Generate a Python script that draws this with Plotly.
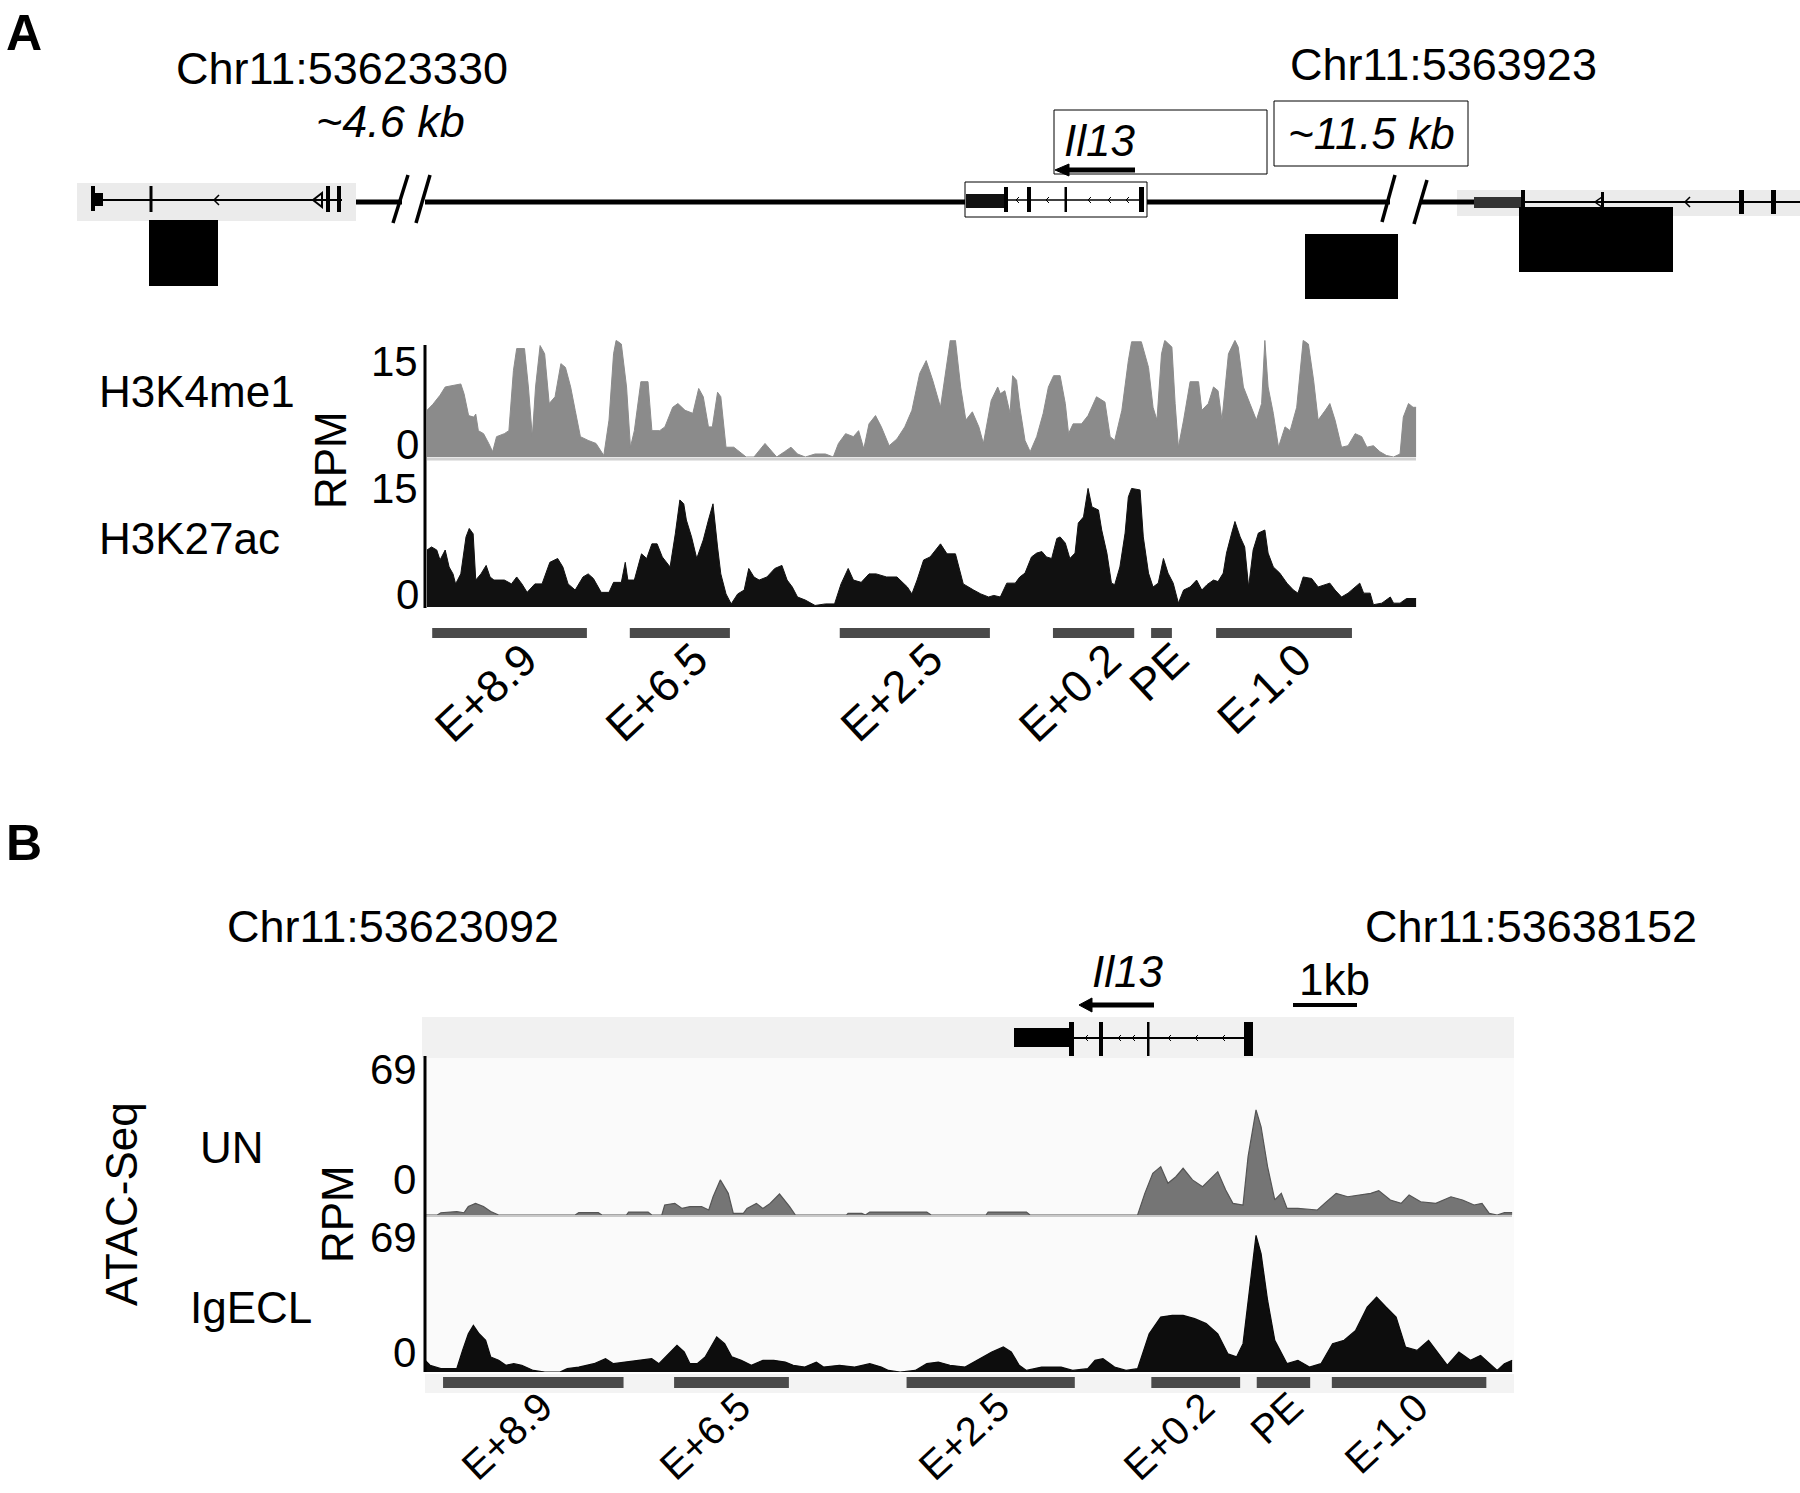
import plotly.graph_objects as go

W, H = 1800, 1493
FONT = "Liberation Sans, Arial, Helvetica, sans-serif"

# ---------------- DATA ----------------
# Panel A tracks: position (kb from left edge of track) and RPM values
k4_pos = [0.00,0.09,0.20,0.28,0.40,0.52,0.57,0.64,0.72,0.75,
          0.79,0.87,0.95,1.01,1.07,1.19,1.26,1.33,1.38,1.50,
          1.56,1.62,1.67,1.74,1.81,1.88,1.97,2.06,2.13,2.21,
          2.28,2.36,2.48,2.60,2.72,2.80,2.87,2.91,2.99,3.07,
          3.13,3.19,3.29,3.40,3.46,3.58,3.66,3.78,3.86,3.97,
          4.09,4.18,4.25,4.33,4.39,4.47,4.52,4.60,4.72,4.80,
          4.91,5.03,5.11,5.20,5.31,5.38,5.50,5.60,5.70,5.82,
          5.97,6.13,6.25,6.33,6.44,6.56,6.64,6.72,6.80,6.90,
          6.99,7.11,7.23,7.35,7.46,7.58,7.68,7.78,7.90,8.00,
          8.05,8.13,8.21,8.29,8.39,8.49,8.56,8.68,8.78,
          8.82,8.89,8.97,9.01,9.07,9.12,9.20,9.28,9.38,9.48,
          9.56,9.64,9.74,9.82,9.87,9.94,10.07,10.17,10.30,10.43,
          10.51,10.58,10.69,10.79,10.84,10.99,11.10,11.17,11.23,11.30,
          11.35,11.46,11.51,11.56,11.64,11.74,11.87,11.92,12.02,12.10,
          12.17,12.23,12.33,12.43,12.48,12.56,12.66,12.76,12.84,12.89,
          12.94,13.02,13.10,13.20,13.28,13.38,13.48,13.56,13.64,13.71,
          13.82,13.89,13.97,14.07,14.17,14.28,14.38,14.46,14.56,14.66,
          14.76,14.87,14.97,15.02,15.10,15.17,15.22]
k4_val = [6.2,7.0,8.2,9.3,9.5,9.7,8.4,5.5,5.3,5.7,
          3.5,3.1,1.8,0.7,2.7,3.1,3.5,11.5,14.4,14.4,
          9.3,2.7,9.3,14.8,13.7,7.1,8.0,12.4,11.9,9.3,
          6.2,2.7,2.2,1.8,0.2,4.9,13.7,15.5,15.0,9.3,
          1.3,3.5,10.0,10.0,3.5,3.5,4.0,6.6,7.1,6.2,
          5.8,9.1,8.0,4.0,4.0,8.6,8.0,1.3,1.3,0.7,
          0,0,0.9,1.8,0.7,0,0.7,1.3,0.4,0,
          0.4,0.4,0,1.8,3.1,2.7,3.5,1.1,4.4,5.5,
          4.0,1.5,2.4,4.0,6.2,11.1,12.8,10.2,6.6,12.8,
          15.5,15.5,9.3,4.9,6.0,4.0,1.8,7.5,9.3,
          8.4,8.8,5.8,10.8,10.2,6.6,2.2,0.7,2.7,5.8,
          9.3,10.8,10.8,7.1,3.1,4.4,4.4,5.5,8.0,7.3,
          2.7,2.2,6.2,12.8,15.3,15.3,11.9,6.6,4.9,13.7,
          15.5,14.6,7.1,1.3,4.9,10.0,10.0,6.2,7.1,9.3,
          8.8,4.9,13.7,15.5,14.6,9.3,7.1,4.9,7.1,15.5,
          9.3,5.8,1.3,4.0,3.5,6.6,15.5,15.0,10.2,4.9,
          6.2,7.1,4.9,1.3,1.5,3.1,2.7,1.3,1.5,0.7,
          0.2,0,0.4,5.3,7.1,6.6,6.6]

k27_pos = [0.00,0.07,0.15,0.20,0.28,0.34,0.40,0.44,0.52,0.60,
           0.65,0.71,0.75,0.83,0.91,0.97,1.03,1.19,1.30,1.38,
           1.46,1.54,1.66,1.77,1.89,2.01,2.09,2.17,2.28,2.40,
           2.48,2.56,2.68,2.80,2.87,2.99,3.05,3.09,3.19,3.30,
           3.38,3.46,3.54,3.62,3.74,3.82,3.89,3.95,3.99,4.07,
           4.15,4.25,4.33,4.40,4.47,4.52,4.60,4.68,4.78,4.88,
           4.95,5.03,5.11,5.23,5.35,5.46,5.54,5.62,5.70,5.82,
           5.97,6.13,6.27,6.37,6.48,6.56,6.68,6.80,6.91,7.07,
           7.23,7.39,7.46,7.54,7.64,7.74,7.90,8.00,8.13,8.25,
           8.41,8.52,8.64,8.72,
           8.82,8.92,9.05,9.12,9.20,9.30,9.38,9.46,9.53,9.61,
           9.69,9.74,9.82,9.89,9.97,10.02,10.10,10.17,10.23,10.33,
           10.38,10.46,10.53,10.58,10.66,10.74,10.79,10.84,10.97,11.02,
           11.10,11.17,11.25,11.33,11.40,11.48,11.56,11.64,11.74,11.84,
           11.92,12.00,12.10,12.17,12.25,12.30,12.38,12.43,12.51,12.58,
           12.64,12.71,12.79,12.89,12.94,13.02,13.12,13.23,13.33,13.40,
           13.48,13.61,13.71,13.82,13.89,13.97,14.07,14.17,14.28,14.35,
           14.41,14.51,14.56,14.69,14.82,14.87,14.97,15.07,15.22]
k27_val = [7.4,7.8,7.4,6.1,7.4,5.2,4.3,3.0,4.3,9.1,
           10.2,9.5,3.5,4.3,5.4,3.9,3.5,3.5,3.0,3.9,
           3.0,1.9,3.0,3.0,5.8,6.3,5.2,3.0,2.2,3.9,
           4.3,3.7,1.9,1.9,3.2,3.2,5.8,3.5,3.5,6.9,
           6.3,8.2,8.2,6.5,5.2,9.5,13.9,13.4,11.3,9.1,
           6.3,8.7,11.3,13.4,7.8,4.3,1.7,0.4,1.7,2.2,
           5.0,3.9,3.5,3.9,5.0,5.4,3.5,2.6,1.3,0.9,
           0.2,0.4,0.4,3.0,5.0,3.5,3.2,4.3,4.3,3.9,
           3.9,2.6,1.7,3.5,6.1,6.5,8.2,6.9,6.9,3.0,
           2.2,1.7,1.3,1.5,
           1.3,3.1,3.1,3.9,4.4,6.5,7.0,7.2,6.5,6.3,
           8.9,9.1,8.3,6.3,7.0,10.9,11.7,15.4,13.0,12.6,
           10.0,7.0,3.1,2.9,5.2,9.6,14.3,15.4,15.2,9.1,
           4.4,2.6,3.1,6.3,4.4,3.1,0.5,2.2,2.6,3.5,
           2.2,2.9,3.5,3.3,4.4,7.0,9.6,11.1,9.1,7.8,
           2.6,7.4,9.6,10.0,7.0,5.2,4.4,3.1,2.2,1.8,
           3.9,3.7,2.6,2.9,3.1,2.2,1.3,1.8,2.6,3.1,
           1.8,1.8,0.3,0.5,1.3,0.5,0.5,1.1,1.1]

# Panel B ATAC-Seq tracks: kb from Chr11:53623092, RPM
un_pos = [0.00,0.17,0.22,0.44,0.54,0.60,0.70,0.81,0.91,1.02,
          2.08,2.13,2.40,2.45,2.79,2.82,3.09,3.14,3.28,3.32,
          3.46,3.56,3.67,3.83,3.93,3.99,4.09,4.20,4.27,4.41,
          4.46,4.59,4.68,4.78,4.91,5.05,5.13,5.84,5.86,6.05,
          6.10,6.16,6.95,7.01,7.77,7.80,8.33,8.38,9.87,9.97,
          10.08,10.19,10.29,10.40,10.50,10.63,10.77,10.87,10.98,11.09,
          11.19,11.33,11.40,11.51,11.58,11.67,11.77,11.86,11.94,12.09,
          12.36,12.46,12.62,12.78,12.94,13.10,13.21,13.37,13.52,13.63,
          13.79,14.00,14.21,14.37,14.53,14.64,14.74,14.85,14.95,15.06]
un_val = [0,0,1,1.5,1,3.7,5.1,3.7,1.5,0,
          0,1,1,0,0,1.3,1.3,0,0,4.4,
          5.1,2.9,3.7,3.7,2.2,8.0,15.4,9.5,0.7,0.7,
          2.9,5.1,2.9,5.1,9.2,3.7,0,0,0.7,0.7,
          0,1.3,1.3,0,0,1.3,1.3,0,0,9.5,
          18.3,21.2,13.9,16.8,20.5,15.4,12.4,15.4,19.0,11.0,
          5.1,4.4,25.6,46.1,38.7,21.2,6.6,9.5,2.9,2.9,
          2.2,5.1,9.5,8.0,8.8,9.5,10.7,6.6,5.1,8.8,
          5.8,5.1,8.0,6.6,4.4,5.1,0.7,0,1,1]

ig_pos = [0.00,0.07,0.22,0.44,0.52,0.60,0.67,0.75,0.84,0.91,
          1.02,1.12,1.23,1.34,1.50,1.66,1.87,1.97,2.13,2.34,
          2.50,2.61,2.77,2.98,3.14,3.24,3.35,3.49,3.59,3.67,
          3.77,3.88,4.04,4.15,4.25,4.38,4.52,4.68,4.83,4.99,
          5.10,5.26,5.42,5.52,5.74,5.95,6.16,6.32,6.42,6.58,
          6.79,6.95,7.11,7.27,7.48,7.69,7.85,8.01,8.12,8.23,
          8.33,8.54,8.81,8.97,9.18,9.28,9.39,9.55,9.71,9.87,
          10.03,10.19,10.35,10.50,10.66,10.82,10.98,11.12,11.24,11.33,
          11.40,11.51,11.58,11.67,11.77,11.94,12.09,12.25,12.41,12.57,
          12.73,12.89,13.05,13.18,13.31,13.45,13.58,13.74,13.90,14.06,
          14.16,14.32,14.48,14.62,14.74,14.85,14.95,15.06]
ig_val = [5.2,3.0,1.5,1.5,9.6,17.0,20.7,17.0,14.1,6.7,
          5.2,3.0,3.7,3.0,0.7,0,0,1.5,2.2,3.7,
          5.9,3.7,4.4,5.2,5.9,3.7,7.4,11.9,8.9,3.7,
          3.7,6.7,15.6,12.6,6.7,5.2,3.0,5.2,5.2,4.4,
          3.0,2.2,4.4,2.2,3.0,2.2,3.7,2.2,0.7,0,
          0.7,3.7,4.4,3.0,2.2,5.9,8.9,11.1,8.9,3.0,
          0.7,2.2,2.2,0.7,1.5,5.2,5.9,2.2,0.7,1.5,
          17.0,24.4,25.2,25.2,23.7,21.5,17.0,8.1,6.7,12.6,
          31.9,60.7,52.6,31.9,14.1,3.7,5.2,2.2,3.7,12.6,
          14.1,18.5,28.9,33.3,28.9,24.4,11.1,9.6,14.1,7.4,
          3.0,8.9,5.2,7.4,3.7,0.7,3.7,5.2]

# Enhancer regions
regions = ["E+8.9", "E+6.5", "E+2.5", "E+0.2", "PE", "E-1.0"]
regA_start = [0.08, 3.12, 6.35, 9.63, 11.14, 12.14]
regA_end = [2.46, 4.66, 8.66, 10.88, 11.46, 14.23]
regB_start = [0.25, 3.45, 6.67, 10.06, 11.52, 12.56]
regB_end = [2.75, 5.04, 9.00, 11.29, 12.26, 14.70]

A_SPAN = 15.22   # kb shown in panel A tracks
B_SPAN = 15.06   # kb shown in panel B tracks
RPM_A = 15.5
RPM_B = 69

# ---------------- helpers ----------------
def fx(x):
    return x / W

def fy(y):
    return 1 - y / H

shapes = []
annotations = []

def rect(x0, y0, x1, y1, fill="black", lc=None, lw=0, layer="above"):
    shapes.append(dict(type="rect", xref="paper", yref="paper",
                       x0=fx(x0), x1=fx(x1), y0=fy(y1), y1=fy(y0),
                       fillcolor=fill, layer=layer,
                       line=dict(color=lc if lc else fill, width=lw)))

def seg(x0, y0, x1, y1, w=2, c="black", layer="above"):
    shapes.append(dict(type="line", xref="paper", yref="paper",
                       x0=fx(x0), y0=fy(y0), x1=fx(x1), y1=fy(y1), layer=layer,
                       line=dict(color=c, width=w)))

def path(pts, fill=None, w=1.5, c="black", closed=False):
    d = "M " + " L ".join(f"{fx(x):.5f},{fy(y):.5f}" for x, y in pts)
    if closed:
        d += " Z"
    shapes.append(dict(type="path", xref="paper", yref="paper", path=d,
                       fillcolor=fill if fill else "rgba(0,0,0,0)",
                       line=dict(color=c, width=w)))

def text(t, x, y, size=44, xanchor="center", yanchor="middle", angle=0, color="black"):
    annotations.append(dict(text=t, x=fx(x), y=fy(y), xref="paper", yref="paper",
                            xanchor=xanchor, yanchor=yanchor, showarrow=False,
                            textangle=angle, font=dict(family=FONT, size=size, color=color)))

def chev(x, y, s=4, w=1):
    path([(x + s, y - s), (x, y), (x + s, y + s)], w=w)

# ---------------- figure ----------------
fig = go.Figure()

fig.add_trace(go.Scatter(x=k4_pos, y=k4_val, mode="lines", fill="tozeroy",
                         line=dict(color="#8b8b8b", width=1), fillcolor="#8b8b8b",
                         xaxis="x", yaxis="y", hoverinfo="skip", showlegend=False))
fig.add_trace(go.Scatter(x=k27_pos, y=k27_val, mode="lines", fill="tozeroy",
                         line=dict(color="#111111", width=1), fillcolor="#111111",
                         xaxis="x2", yaxis="y2", hoverinfo="skip", showlegend=False))
fig.add_trace(go.Scatter(x=un_pos, y=un_val, mode="lines", fill="tozeroy",
                         line=dict(color="#555555", width=1.2), fillcolor="#757575",
                         xaxis="x3", yaxis="y3", hoverinfo="skip", showlegend=False))
fig.add_trace(go.Scatter(x=ig_pos, y=ig_val, mode="lines", fill="tozeroy",
                         line=dict(color="#0a0a0a", width=1.2), fillcolor="#0d0d0d",
                         xaxis="x4", yaxis="y4", hoverinfo="skip", showlegend=False))

ax_common = dict(visible=False, showgrid=False, zeroline=False, fixedrange=True)
xa_dom = [fx(427), fx(427 + A_SPAN * 65)]
xb_dom = [fx(425), fx(425 + B_SPAN * 72.2)]
layout_axes = dict(
    xaxis=dict(domain=xa_dom, range=[0, A_SPAN], anchor="y", **ax_common),
    yaxis=dict(domain=[fy(457), fy(457 - RPM_A * 7.53)], range=[0, RPM_A], anchor="x", **ax_common),
    xaxis2=dict(domain=xa_dom, range=[0, A_SPAN], anchor="y2", **ax_common),
    yaxis2=dict(domain=[fy(607), fy(607 - RPM_A * 7.7)], range=[0, RPM_A], anchor="x2", **ax_common),
    xaxis3=dict(domain=xb_dom, range=[0, B_SPAN], anchor="y3", **ax_common),
    yaxis3=dict(domain=[fy(1215), fy(1215 - RPM_B * 2.28)], range=[0, RPM_B], anchor="x3", **ax_common),
    xaxis4=dict(domain=xb_dom, range=[0, B_SPAN], anchor="y4", **ax_common),
    yaxis4=dict(domain=[fy(1372), fy(1372 - RPM_B * 2.25)], range=[0, RPM_B], anchor="x4", **ax_common),
)

# ---------- Panel A : gene schematic ----------
rect(77, 183, 356, 221, fill="#ebebeb", layer="below")
seg(92, 200, 342, 200, w=2)
rect(91, 186, 95, 211)
rect(95, 193, 103, 206)
rect(149.5, 186, 152.5, 212)
chev(214, 200, s=5, w=1.5)
path([(322, 193), (313, 200), (322, 207)], w=2, closed=True)
rect(326, 186, 330, 212)
rect(337, 186, 341, 212)

seg(356, 202, 402, 202, w=5)
seg(425, 202, 1390, 202, w=5)
seg(1420, 202, 1474, 202, w=5)
seg(393, 223, 408, 175, w=3.5)
seg(416, 223, 430, 175, w=3.5)
seg(1382, 222, 1395, 175, w=3.5)
seg(1414, 224, 1427, 180, w=3.5)

rect(965, 182, 1147, 217, fill="white", lc="black", lw=1)
seg(1006, 200, 1144, 200, w=1.5)
rect(966, 194, 1006, 208, fill="#111111")
rect(1004, 187, 1008, 212)
rect(1027, 187, 1031, 212)
rect(1064.5, 187, 1067, 212)
rect(1139, 187, 1144, 212)
for cx in [1016, 1046, 1088, 1108, 1126]:
    chev(cx, 200, s=3, w=1)

rect(1054, 110, 1267, 174, fill="white", lc="black", lw=1)
seg(1066, 170, 1135, 170, w=5)
path([(1055, 170), (1069, 164), (1069, 176)], fill="black", w=1, closed=True)
text("<i>Il13</i>", 1099, 141)

rect(1274, 101, 1468, 166, fill="white", lc="black", lw=1)
text("<i>~11.5 kb</i>", 1371, 133)

rect(1457, 190, 1800, 216, fill="#ebebeb", layer="below")
seg(1523, 202, 1800, 202, w=2)
rect(1474, 197, 1523, 208, fill="#333333")
rect(1521, 190, 1525, 214)
rect(1601, 192, 1604, 211)
path([(1602, 197), (1595, 202), (1602, 207)], w=1.5, closed=True)
chev(1685, 202, s=5, w=1.5)
rect(1739, 190, 1744, 214)
rect(1771, 190, 1776, 214)

rect(149, 220, 218, 286)
rect(1305, 234, 1398, 299)
rect(1519, 207, 1673, 272)

text("<b>A</b>", 24, 33, size=50)
text("Chr11:53623330", 342, 69, size=45)
text("<i>~4.6 kb</i>", 390, 121, size=45)
text("Chr11:5363923", 1443, 65, size=45)
text("H3K4me1", 97, 391, xanchor="left")
text("H3K27ac", 97, 538, xanchor="left")
text("RPM", 331, 460, angle=-90)
text("15", 420, 361, size=42, xanchor="right")
text("0", 421, 445, size=42, xanchor="right")
text("15", 420, 488, size=42, xanchor="right")
text("0", 421, 594, size=42, xanchor="right")

seg(425, 345, 425, 608, w=3)
seg(427, 459, 1416, 459, w=3, c="#d0d0d0", layer="below")

for name, s, e in zip(regions, regA_start, regA_end):
    shapes.append(dict(type="rect", xref="x", yref="paper", x0=s, x1=e,
                       y0=fy(638), y1=fy(628), fillcolor="#4a4a4a",
                       line=dict(width=0)))
    annotations.append(dict(text=name, x=(s + e) / 2, y=fy(630), xref="x", yref="paper",
                            xanchor="right", yanchor="top", xshift=40, showarrow=False,
                            textangle=-43, font=dict(family=FONT, size=45, color="black")))

# ---------- Panel B ----------
text("<b>B</b>", 24, 843, size=50)
text("Chr11:53623092", 393, 926, size=45)
text("Chr11:53638152", 1531, 926, size=45)
text("<i>Il13</i>", 1127, 971)
text("1kb", 1334, 979)

seg(1090, 1005, 1154, 1005, w=5)
path([(1079, 1005), (1092, 998), (1092, 1012)], fill="black", w=1, closed=True)
seg(1293, 1005, 1357, 1005, w=4)

rect(422, 1017, 1514, 1058, fill="#f1f1f1", layer="below")
rect(425, 1058, 1514, 1372, fill="#fafafa", layer="below")
rect(425, 1374, 1514, 1393, fill="#f3f3f3", layer="below")
seg(425, 1216, 1512, 1216, w=2, c="#c8c8c8", layer="below")

rect(1014, 1028, 1070, 1047)
seg(1070, 1038, 1252, 1038, w=2)
rect(1069, 1022, 1074, 1056)
rect(1099, 1022, 1103, 1056)
rect(1147, 1022, 1149.5, 1056)
rect(1244, 1022, 1253, 1056)
for cx in [1085, 1118, 1132, 1168, 1195, 1222]:
    chev(cx, 1038, s=3, w=1)

seg(425, 1056, 425, 1372, w=3)

text("ATAC-Seq", 121, 1204, angle=-90)
text("UN", 232, 1147)
text("RPM", 337, 1214, angle=-90)
text("IgECL", 251, 1307)
text("69", 419, 1069, size=42, xanchor="right")
text("0", 418, 1179, size=42, xanchor="right")
text("69", 419, 1237, size=42, xanchor="right")
text("0", 418, 1352, size=42, xanchor="right")

for name, s, e in zip(regions, regB_start, regB_end):
    shapes.append(dict(type="rect", xref="x3", yref="paper", x0=s, x1=e,
                       y0=fy(1388), y1=fy(1377), fillcolor="#4a4a4a",
                       line=dict(width=0)))
    annotations.append(dict(text=name, x=(s + e) / 2, y=fy(1381), xref="x3", yref="paper",
                            xanchor="right", yanchor="top", xshift=30, showarrow=False,
                            textangle=-43, font=dict(family=FONT, size=40, color="black")))

fig.update_layout(
    width=W, height=H,
    margin=dict(l=0, r=0, t=0, b=0),
    paper_bgcolor="white",
    plot_bgcolor="rgba(0,0,0,0)",
    showlegend=False,
    shapes=shapes,
    annotations=annotations,
    font=dict(family=FONT, color="black"),
    **layout_axes,
)

fig.write_html("out.html",
               config={"displayModeBar": False, "staticPlot": True},
               post_script="document.body.style.margin='0px';document.body.style.overflow='hidden';")
